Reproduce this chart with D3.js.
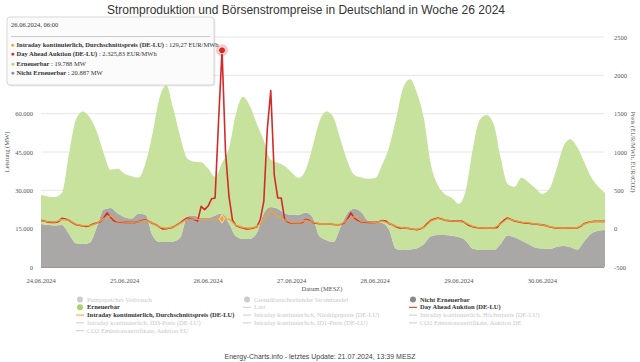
<!DOCTYPE html>
<html>
<head>
<meta charset="utf-8">
<script src="https://cdn.jsdelivr.net/npm/d3@7"></script>
<style>
body { margin: 0; background: #ffffff; }
svg text { font-family: "Liberation Serif", "DejaVu Serif", serif; }
</style>
</head>
<body>
<div id="chart"></div>
<script>
// x axis: hours since 24.06.2024 00:00, one label per day
var dayLabels = ["24.06.2024", "25.06.2024", "26.06.2024", "27.06.2024", "28.06.2024", "29.06.2024", "30.06.2024"];
var dayHours = [0, 24, 48, 72, 96, 120, 144];
var powerTicks = [0, 15000, 30000, 45000, 60000, 75000, 90000];
var priceTicks = [-500, 0, 500, 1000, 1500, 2000, 2500];

// generation in MW, one value every 2 hours (stacked: non renewable below)
var nonRenewable = [16800,16500,16200,16400,13000,9300,9000,9500,15500,22500,
	23100,21000,19500,19000,20800,20500,12500,9800,9800,10000,
	11500,19800,20200,19200,19200,20200,20900,17000,12000,11000,
	11000,13300,21000,23500,22800,21000,20400,20400,21300,19500,
	12000,10500,9800,15500,21000,22800,21500,18000,17300,17200,
	14500,7000,6650,6800,7300,9000,12000,12500,12500,12200,
	11700,10300,7200,6650,6650,6650,9000,12300,11600,10400,
	9000,7600,7200,7050,7800,8200,7800,6800,10000,13000,
	14200,14500];
var renewable = [11400,11100,11200,12600,31000,48200,51800,49000,37500,22000,
	14900,17400,17000,16500,14200,20000,39500,56200,61200,52000,
	39500,22700,21000,21800,19300,15100,19800,29500,48000,55600,
	52000,42700,28500,18500,18000,18500,16600,14500,16700,27500,
	45000,50300,48700,34500,20500,13200,13500,16500,17500,22800,
	32500,51000,63350,66700,60700,49000,28000,19500,16000,14800,
	13000,19700,38800,50850,52850,49350,34000,20200,19700,24500,
	24200,23200,21400,23450,30200,38800,42200,40200,31200,22200,
	17300,14500];

// prices in EUR/MWh: day ahead hourly, intraday every 2 hours
var dayAhead = [108,100,85,82,82,90,135,125,110,80,55,45,
	35,30,40,60,75,90,140,205,150,100,90,85,
	82,82,82,82,90,105,117,95,70,52,20,-4,
	0,8,20,50,75,110,140,130,120,100,290,248,
	295,390,400,1400,2326,1000,420,110,40,22,10,-4,
	0,10,22,120,360,1300,1800,700,400,400,117,85,
	75,74,74,80,120,108,82,70,65,65,65,60,
	55,52,55,75,120,205,140,110,90,85,82,82,
	82,90,105,100,65,50,25,10,9,5,0,-8,
	-13,0,20,70,110,125,140,125,110,105,100,100,
	98,95,70,40,25,15,9,9,9,9,9,15,
	70,110,140,120,100,90,80,75,70,65,60,55,
	50,40,25,15,9,8,8,8,9,9,9,30,
	65,80,90,95,95,95,95];
var intraday = [105,88,85,120,110,60,38,40,70,130,
	170,95,85,82,88,110,75,20,5,20,
	70,125,125,115,115,118,129,125,45,15,
	5,25,110,240,160,115,80,75,110,85,
	68,65,58,55,110,160,95,85,82,100,
	70,30,10,0,-10,15,100,135,112,102,
	98,75,30,10,8,8,60,130,105,85,
	75,62,50,28,12,8,10,12,60,90,
	98,95];

// hovered point shown in the tooltip
var hoverHour = 52;
var tooltipTitle = "26.06.2024, 06:00";
var tooltipNames = ["Intraday kontinuierlich, Durchschnittspreis (DE-LU)", "Day Ahead Auktion (DE-LU)", "Erneuerbar", "Nicht Erneuerbar"];
var tooltipValues = ["129,27 EUR/MWh", "2.325,83 EUR/MWh", "19.788 MW", "20.887 MW"];

// legend: 3 columns, enabled entries in bold
var legendNames = [
	["Pumpspeicher Verbrauch", "Erneuerbar", "Intraday kontinuierlich, Durchschnittspreis (DE-LU)", "Intraday kontinuierlich, ID3-Preis (DE-LU)", "CO2 Emissionszertifikate, Auktion EU"],
	["Grenzüberschreitender Stromhandel", "Last", "Intraday kontinuierlich, Niedrigstpreis (DE-LU)", "Intraday kontinuierlich, ID1-Preis (DE-LU)"],
	["Nicht Erneuerbar", "Day Ahead Auktion (DE-LU)", "Intraday kontinuierlich, Höchstpreis (DE-LU)", "CO2 Emissionszertifikate, Auktion DE"]
];
var legendTypes = [
	["dot", "dot", "line", "line", "line"],
	["dot", "line", "line", "line"],
	["dot", "line", "line", "line"]
];
var legendOn = [
	[false, true, true, false, false],
	[false, false, false, false],
	[true, true, false, false]
];

var colors = {
	renewable: "#c6e29c",
	nonRenewable: "#aaa7a7",
	dayAhead: "#d42a2a",
	intraday: "#f0a23a",
	renewableDot: "#a9d46a",
	nonRenewableDot: "#8a8a8a",
	off: "#cccccc"
};

var width = 640, height = 362;

var de = d3.formatLocale({decimal: ",", thousands: ".", grouping: [3], currency: ["", " €"]});
var fmt = de.format(",");

var svg = d3.select("#chart").append("svg")
	.attr("width", width)
	.attr("height", height);

var x = d3.scaleLinear().domain([0, 162]).range([41, 605]);
var yPower = d3.scaleLinear().domain([0, 90000]).range([267, 37]);
var yPrice = d3.scaleLinear().domain([-500, 2500]).range([267, 37]);

// title
svg.append("text")
	.attr("x", 306).attr("y", 14)
	.attr("text-anchor", "middle")
	.attr("style", "font-family:'Liberation Sans',Arial,sans-serif; font-size:12px; fill:#333")
	.text("Stromproduktion und Börsenstrompreise in Deutschland in Woche 26 2024");

// grid lines
svg.append("g").selectAll("line")
	.data(powerTicks)
	.enter().append("line")
	.attr("x1", 41).attr("x2", 604)
	.attr("y1", function(d) { return yPower(d); })
	.attr("y2", function(d) { return yPower(d); })
	.attr("stroke", "#e6e6e6").attr("stroke-width", 1);

// stacked areas
var rows = renewable.map(function(v, i) {
	return {h: i * 2, nonRenewable: nonRenewable[i], renewable: v};
});
var stacked = d3.stack().keys(["nonRenewable", "renewable"])(rows);
var area = d3.area()
	.curve(d3.curveMonotoneX)
	.x(function(d) { return x(d.data.h); })
	.y0(function(d) { return yPower(d[0]); })
	.y1(function(d) { return yPower(d[1]); });
svg.append("g").selectAll("path")
	.data(stacked)
	.enter().append("path")
	.attr("fill", function(d) { return colors[d.key]; })
	.attr("d", area);

// price lines
var priceLine = d3.line()
	.x(function(d) { return x(d[0]); })
	.y(function(d) { return yPrice(d[1]); });
svg.append("path")
	.datum(dayAhead.map(function(v, i) { return [i, v]; }))
	.attr("fill", "none")
	.attr("stroke", colors.dayAhead)
	.attr("stroke-width", 1.6)
	.attr("stroke-linejoin", "round")
	.attr("d", priceLine);
svg.append("path")
	.datum(intraday.map(function(v, i) { return [i * 2, v]; }))
	.attr("fill", "none")
	.attr("stroke", colors.intraday)
	.attr("stroke-width", 1.4)
	.attr("stroke-opacity", 0.9)
	.attr("stroke-linejoin", "round")
	.attr("d", priceLine);

// hover markers
var hx = x(hoverHour);
svg.append("circle").attr("cx", hx).attr("cy", yPrice(dayAhead[hoverHour]))
	.attr("r", 6).attr("fill", colors.dayAhead).attr("fill-opacity", 0.25);
svg.append("circle").attr("cx", hx).attr("cy", yPrice(dayAhead[hoverHour]))
	.attr("r", 3.5).attr("fill", colors.dayAhead).attr("stroke", "#fff").attr("stroke-width", 0.8);
var iy = yPrice(intraday[hoverHour / 2]);
svg.append("circle").attr("cx", hx).attr("cy", iy)
	.attr("r", 5).attr("fill", colors.intraday).attr("fill-opacity", 0.25);
svg.append("path")
	.attr("d", d3.symbol().type(d3.symbolDiamond).size(22))
	.attr("transform", "translate(" + hx + "," + iy + ")")
	.attr("fill", colors.intraday).attr("stroke", "#fff").attr("stroke-width", 0.6);

// x axis
svg.append("line")
	.attr("x1", 41).attr("x2", 604).attr("y1", 267.5).attr("y2", 267.5)
	.attr("stroke", "#999").attr("stroke-width", 1);
svg.append("g").selectAll("text")
	.data(dayHours)
	.enter().append("text")
	.attr("x", function(d) { return x(d); })
	.attr("y", 283)
	.attr("text-anchor", "middle")
	.attr("style", "font-size:6.5px; fill:#555")
	.text(function(d, i) { return dayLabels[i]; });
svg.append("text")
	.attr("x", 322).attr("y", 291)
	.attr("text-anchor", "middle")
	.attr("style", "font-size:6.5px; fill:#555")
	.text("Datum (MESZ)");

// left axis (the two top labels sit under the tooltip and are not drawn)
svg.append("g").selectAll("text")
	.data(powerTicks.filter(function(d) { return d <= 60000; }))
	.enter().append("text")
	.attr("x", 33)
	.attr("y", function(d) { return yPower(d) + 2.5; })
	.attr("text-anchor", "end")
	.attr("style", "font-size:6.5px; fill:#555")
	.text(function(d) { return fmt(d); });
svg.append("text")
	.attr("transform", "translate(9,152) rotate(-90)")
	.attr("text-anchor", "middle")
	.attr("style", "font-size:6.5px; fill:#555")
	.text("Leistung (MW)");

// right axis
svg.append("g").selectAll("text")
	.data(priceTicks)
	.enter().append("text")
	.attr("x", 614)
	.attr("y", function(d) { return yPrice(d) + 2.5; })
	.attr("style", "font-size:6.5px; fill:#555")
	.text(function(d) { return d; });
svg.append("text")
	.attr("transform", "translate(631,152) rotate(90)")
	.attr("text-anchor", "middle")
	.attr("style", "font-size:6.5px; fill:#555")
	.text("Preis (EUR/MWh, EUR/tCO2)");

// legend
var legendX = [80, 247, 413];
var legendY0 = 301.5, legendStep = 7.8;
var legendDot = [
	[colors.off, colors.renewableDot, colors.intraday, colors.off, colors.off],
	[colors.off, colors.off, colors.off, colors.off],
	[colors.nonRenewableDot, colors.dayAhead, colors.off, colors.off]
];
for(var c = 0; c < legendNames.length; c++) {
	for(var r = 0; r < legendNames[c].length; r++) {
		var ly = legendY0 + r * legendStep;
		var on = legendOn[c][r];
		if(legendTypes[c][r] == "dot") {
			svg.append("circle").attr("cx", legendX[c]).attr("cy", ly - 2)
				.attr("r", 3).attr("fill", legendDot[c][r]);
		} else {
			svg.append("line").attr("x1", legendX[c] - 4).attr("x2", legendX[c] + 4)
				.attr("y1", ly - 2).attr("y2", ly - 2)
				.attr("stroke", legendDot[c][r]).attr("stroke-width", 1);
		}
		svg.append("text")
			.attr("x", legendX[c] + 7).attr("y", ly)
			.attr("style", "font-size:6.5px; fill:" + (on ? "#333" : "#c8c8c8") + "; font-weight:" + (on ? "bold" : "normal"))
			.text(legendNames[c][r]);
	}
}

// footer
svg.append("text")
	.attr("x", 320).attr("y", 359)
	.attr("text-anchor", "middle")
	.attr("style", "font-family:'Liberation Sans',Arial,sans-serif; font-size:7px; fill:#444")
	.text("Energy-Charts.info - letztes Update: 21.07.2024, 13:39 MESZ");

// tooltip box
var tip = svg.append("g").attr("transform", "translate(7,17)");
tip.append("rect").attr("x", 1.5).attr("y", 1.5).attr("width", 207).attr("height", 68)
	.attr("rx", 3).attr("fill", "#000").attr("fill-opacity", 0.08);
tip.append("rect").attr("x", 0).attr("y", 0).attr("width", 207).attr("height", 68)
	.attr("rx", 3).attr("fill", "#fbfbfb").attr("stroke", "#cfcfcf").attr("stroke-width", 0.8);
tip.append("text").attr("x", 4).attr("y", 9.5)
	.attr("style", "font-size:6.5px; fill:#333")
	.text(tooltipTitle);
tip.append("line").attr("x1", 4).attr("x2", 203).attr("y1", 19.5).attr("y2", 19.5)
	.attr("stroke", "#bbb").attr("stroke-width", 0.8);
var tipColors = [colors.intraday, colors.dayAhead, colors.renewableDot, colors.nonRenewableDot];
for(var i = 0; i < tooltipNames.length; i++) {
	var t = tip.append("text").attr("x", 4).attr("y", 29.5 + i * 9.6)
		.attr("style", "font-size:6.5px; fill:#333");
	t.append("tspan").attr("fill", tipColors[i]).text("\u25CF ");
	t.append("tspan").attr("font-weight", "bold").text(tooltipNames[i]);
	t.append("tspan").text(" : " + tooltipValues[i]);
}
</script>
</body>
</html>
